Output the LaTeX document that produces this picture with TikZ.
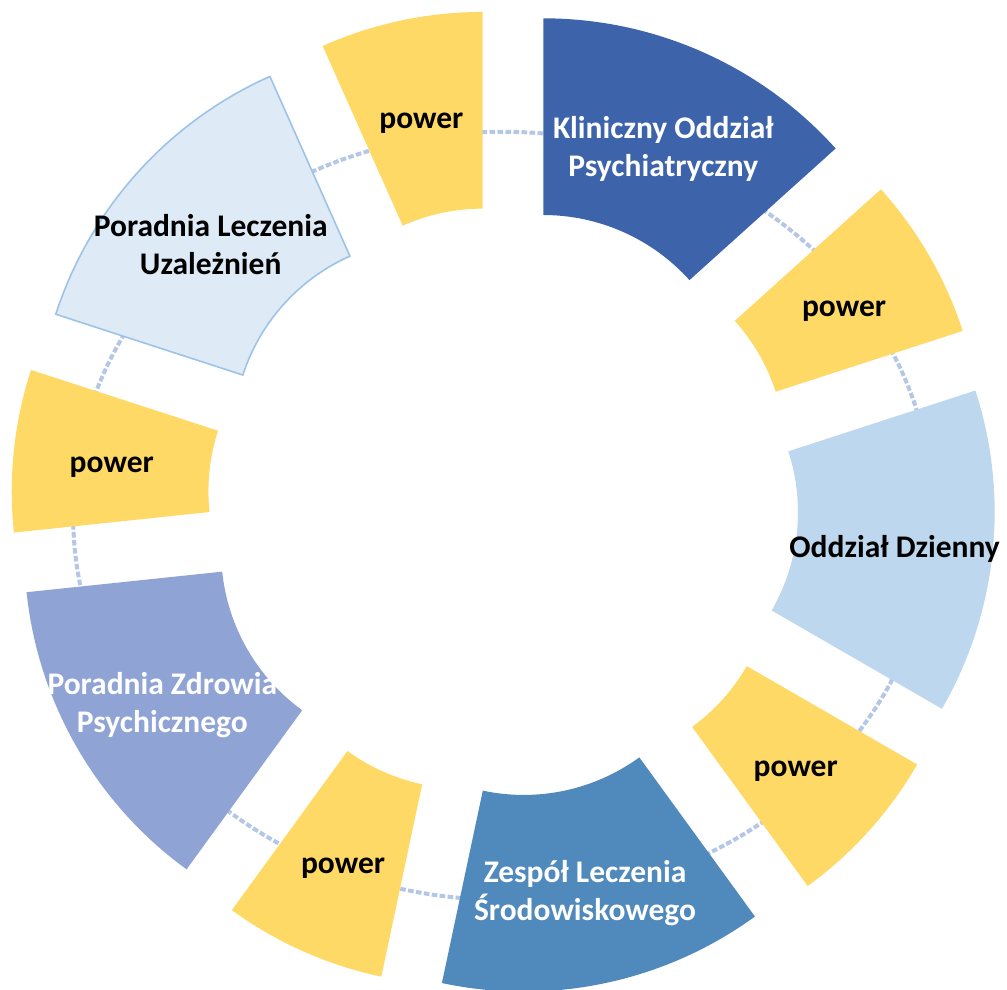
\documentclass[tikz,border=0pt]{standalone}
\usepackage{fontspec}
\setmainfont{Carlito}
\usepackage{tikz}
\usepackage{xcolor}

\definecolor{klinblue}{RGB}{61,100,171}
\definecolor{zesblue}{RGB}{80,137,188}
\definecolor{pzpblue}{RGB}{143,163,212}
\definecolor{odzblue}{RGB}{189,215,238}
\definecolor{plufill}{RGB}{222,235,247}
\definecolor{pluedge}{RGB}{157,195,230}
\definecolor{pwyellow}{RGB}{255,217,102}
\definecolor{ringblue}{RGB}{180,199,231}

\begin{document}
\begin{tikzpicture}[x=0.25mm,y=0.25mm]%
  \tikzstyle{ring}=[draw=ringblue,line width=1mm,dash pattern=on 1.4mm off 0.6mm]
  \tikzstyle{lbl}=[font=\bfseries\fontsize{22.4}{27.3}\selectfont,align=center,inner sep=0,yshift=-1.6mm]
  \useasboundingbox (-503.2,-488.2) rectangle (503.8,501.8);
  % dashed ring behind the segments
  \path[ring] (0,-14) ellipse [x radius=430,y radius=384];
  % segments
  \fill[klinblue] ([shift={(66:98.6)}]90:393.4) arc[start angle=90,end angle=42,radius=393.4]
    -- ([shift={(66:98.6)}]42:196.7) arc[start angle=42,end angle=90,radius=196.7] -- cycle;
  \fill[pwyellow] ([shift={(30:98.6)}]42:393.4) arc[start angle=42,end angle=18,radius=393.4]
    -- ([shift={(30:98.6)}]18:196.7) arc[start angle=18,end angle=42,radius=196.7] -- cycle;
  \fill[odzblue] ([shift={(-6:98.6)}]18:393.4) arc[start angle=18,end angle=-30,radius=393.4]
    -- ([shift={(-6:98.6)}]-30:196.7) arc[start angle=-30,end angle=18,radius=196.7] -- cycle;
  \fill[pwyellow] ([shift={(-42:98.6)}]-30:393.4) arc[start angle=-30,end angle=-54,radius=393.4]
    -- ([shift={(-42:98.6)}]-54:196.7) arc[start angle=-54,end angle=-30,radius=196.7] -- cycle;
  \fill[zesblue] ([shift={(-78:98.6)}]-54:393.4) arc[start angle=-54,end angle=-102,radius=393.4]
    -- ([shift={(-78:98.6)}]-102:196.7) arc[start angle=-102,end angle=-54,radius=196.7] -- cycle;
  \fill[pwyellow] ([shift={(-114:98.6)}]-102:393.4) arc[start angle=-102,end angle=-126,radius=393.4]
    -- ([shift={(-114:98.6)}]-126:196.7) arc[start angle=-126,end angle=-102,radius=196.7] -- cycle;
  \fill[pzpblue] ([shift={(-150:98.6)}]-126:393.4) arc[start angle=-126,end angle=-174,radius=393.4]
    -- ([shift={(-150:98.6)}]-174:196.7) arc[start angle=-174,end angle=-126,radius=196.7] -- cycle;
  \fill[pwyellow] ([shift={(174:98.6)}]186:393.4) arc[start angle=186,end angle=162,radius=393.4]
    -- ([shift={(174:98.6)}]162:196.7) arc[start angle=162,end angle=186,radius=196.7] -- cycle;
  \filldraw[fill=plufill,draw=pluedge,line width=0.4mm] ([shift={(138:98.6)}]162:393.4) arc[start angle=162,end angle=114,radius=393.4]
    -- ([shift={(138:98.6)}]114:196.7) arc[start angle=114,end angle=162,radius=196.7] -- cycle;
  \fill[pwyellow] ([shift={(102:98.6)}]114:393.4) arc[start angle=114,end angle=90,radius=393.4]
    -- ([shift={(102:98.6)}]90:196.7) arc[start angle=90,end angle=114,radius=196.7] -- cycle;
  % labels
  \node(kli)[lbl,text=white] at (66:393.6) {Kliniczny Oddział\\Psychiatryczny};
  \node(pw1)[lbl] at (30:393.6) {power};
  \node(odz)[lbl] at (-6:393.6) {Oddział Dzienny};
  \node(pw2)[lbl] at (-42:393.6) {power};
  \node(zes)[lbl,text=white] at (-78:393.6) {Zespół Leczenia\\Środowiskowego};
  \node(pw3)[lbl] at (-114:393.6) {power};
  \node(pzp)[lbl,text=white] at (-150:393.6) {Poradnia Zdrowia\\Psychicznego};
  \node(pw4)[lbl] at (174:393.6) {power};
  \node(plu)[lbl] at (138:393.6) {Poradnia Leczenia\\Uzależnień};
  \node(pw5)[lbl] at (102:393.6) {power};
\end{tikzpicture}
\end{document}
